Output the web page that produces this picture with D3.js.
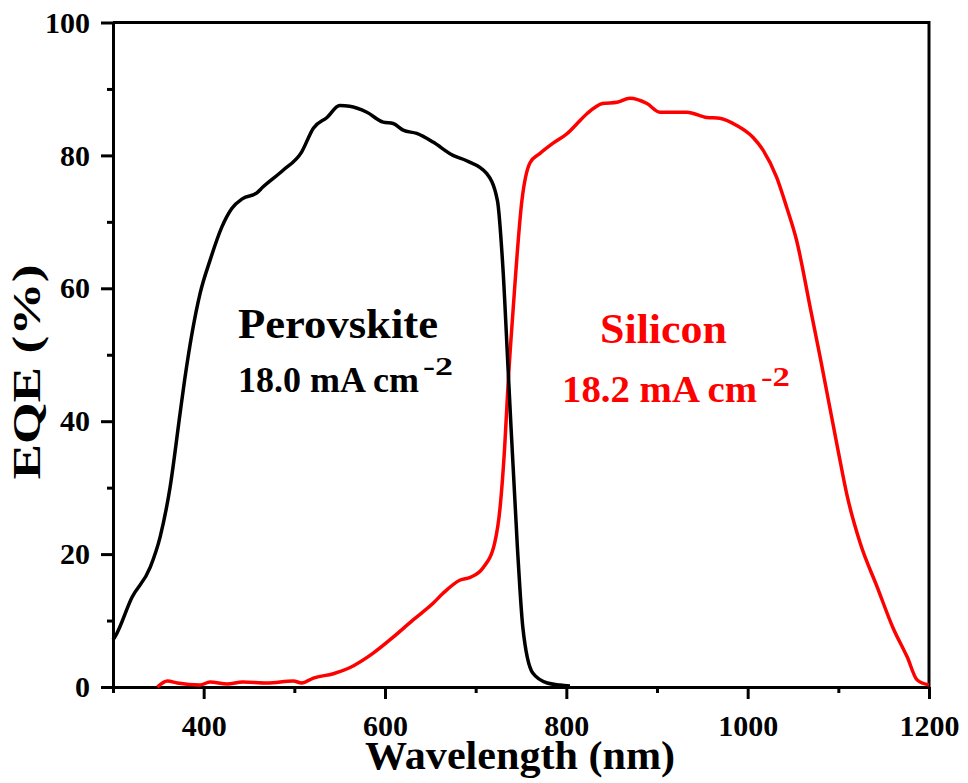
<!DOCTYPE html>
<html>
<head>
<meta charset="utf-8">
<script src="https://cdn.jsdelivr.net/npm/d3@7"></script>
</head>
<body style="margin:0; background:#fff">
<div id="chart"></div>
<script>
// wavelength (nm) and EQE (%)
let perovskiteNm = [300, 302, 321, 341, 352, 363, 374, 379, 396, 407, 420, 431, 443, 459, 465, 487, 508, 521, 536, 550, 561, 580, 598, 609, 620, 635, 653, 675, 690, 712, 724, 730, 736, 746, 752, 763, 779, 793, 804];
let perovskiteEqe = [7.1, 7.5, 13.5, 18.0, 22.6, 30.1, 41.2, 46.2, 59.2, 64.2, 69.2, 72.0, 73.5, 74.4, 75.2, 77.7, 80.5, 84.1, 85.7, 87.5, 87.4, 86.5, 85.0, 84.8, 83.8, 83.3, 82.0, 80.0, 79.2, 77.3, 73.2, 63.2, 47.2, 21.1, 9.0, 2.1, 0.6, 0.3, 0.15];

let siliconNm = [349, 360, 371, 396, 407, 426, 443, 470, 499, 508, 521, 543, 561, 587, 609, 631, 653, 664, 683, 694, 708, 721, 727, 732, 736, 741, 751, 760, 771, 785, 801, 812, 823, 840, 856, 870, 889, 903, 914, 933, 955, 969, 988, 1006, 1017, 1032, 1043, 1054, 1069, 1080, 1099, 1110, 1124, 1143, 1160, 1176, 1187, 1200];
let siliconEqe = [0, 0.9, 0.6, 0.3, 0.75, 0.45, 0.75, 0.6, 0.9, 0.6, 1.35, 2.0, 2.9, 5.1, 7.5, 10.1, 12.6, 14.1, 16.1, 16.5, 17.9, 21.7, 27.1, 36.1, 46.2, 56.2, 73.2, 78.9, 80.3, 81.8, 83.3, 84.8, 86.3, 87.8, 88.0, 88.6, 87.8, 86.5, 86.5, 86.5, 85.7, 85.6, 84.5, 82.7, 80.8, 76.7, 72.2, 67.2, 57.1, 49.6, 36.1, 28.6, 21.7, 15.0, 9.0, 4.5, 1.05, 0.3];

let xMajor = [400, 600, 800, 1000, 1200];
let xMinor = [300, 500, 700, 900, 1100];
let yMajor = [0, 20, 40, 60, 80, 100];
let yMinor = [10, 30, 50, 70, 90];

let font = '"Liberation Serif", "Times New Roman", serif';

let svgWidth = 968;
let svgHeight = 783;
let margin = { top: 22.5, right: 39, bottom: 96, left: 113 };
let width = svgWidth - margin.left - margin.right;
let height = svgHeight - margin.top - margin.bottom;

let svg = d3.select("#chart")
  .append("svg")
  .attr("width", svgWidth)
  .attr("height", svgHeight);

let chartGroup = svg.append("g")
  .attr("transform", `translate(${margin.left}, ${margin.top})`);

let x = d3.scaleLinear().domain([300, 1200]).range([0, width]);
let y = d3.scaleLinear().domain([0, 100]).range([height, 0]);

// frame top + right
chartGroup.append("path")
  .attr("d", `M0,0H${width}V${height}`)
  .attr("fill", "none")
  .attr("stroke", "#000")
  .attr("stroke-width", 3);

// minor ticks
chartGroup.append("g")
  .attr("transform", `translate(0, ${height})`)
  .call(d3.axisBottom(x).tickValues(xMinor).tickSize(6).tickSizeOuter(0).tickFormat(""));
chartGroup.append("g")
  .call(d3.axisLeft(y).tickValues(yMinor).tickSize(6).tickSizeOuter(0).tickFormat(""));

// major ticks
chartGroup.append("g")
  .attr("transform", `translate(0, ${height})`)
  .call(d3.axisBottom(x).tickValues(xMajor).tickSize(12).tickSizeOuter(0).tickPadding(16).tickFormat(d3.format("d")));
chartGroup.append("g")
  .call(d3.axisLeft(y).tickValues(yMajor).tickSize(12).tickSizeOuter(0).tickPadding(11).tickFormat(d3.format("d")));

chartGroup.selectAll(".domain, .tick line")
  .attr("stroke", "#000")
  .attr("stroke-width", 3);

chartGroup.selectAll(".tick text")
  .style("font-family", font)
  .style("font-weight", "bold")
  .style("font-size", "30px")
  .attr("fill", "#000");

// curves
let line = d3.line()
  .x(d => x(d[0]))
  .y(d => y(d[1]))
  .curve(d3.curveMonotoneX);

chartGroup.append("path")
  .datum(siliconNm.map((v, i) => [v, siliconEqe[i]]))
  .attr("d", line)
  .attr("fill", "none")
  .attr("stroke", "#ff0000")
  .attr("stroke-width", 3.5)
  .attr("stroke-linejoin", "round");

chartGroup.append("path")
  .datum(perovskiteNm.map((v, i) => [v, perovskiteEqe[i]]))
  .attr("d", line)
  .attr("fill", "none")
  .attr("stroke", "#000")
  .attr("stroke-width", 3.5)
  .attr("stroke-linejoin", "round");

// text helper
function label(txt, x0, y0, size, len, color, anchor, transform) {
  let t = svg.append("text")
    .attr("x", x0)
    .attr("y", y0)
    .attr("textLength", len)
    .attr("lengthAdjust", "spacingAndGlyphs")
    .attr("fill", color)
    .attr("text-anchor", anchor || "start")
    .style("font-family", font)
    .style("font-weight", "bold")
    .style("font-size", size + "px")
    .text(txt);
  if (transform) t.attr("transform", transform);
}

// axis titles
label("Wavelength (nm)", 520, 769, 40, 310, "#000", "middle");
label("EQE (%)", 0, 0, 40, 215, "#000", "middle", "translate(40, 372) rotate(-90)");

label("Perovskite", 238, 338, 42, 200, "#000");
label("18.0 mA cm", 238, 392, 35, 181, "#000");
label("-2", 423, 375, 26, 30, "#000");

label("Silicon", 600, 343, 42, 127, "#ff0000");
label("18.2 mA cm", 562, 402, 37, 195, "#ff0000");
label("-2", 761, 386, 28, 29, "#ff0000");
</script>
</body>
</html>
